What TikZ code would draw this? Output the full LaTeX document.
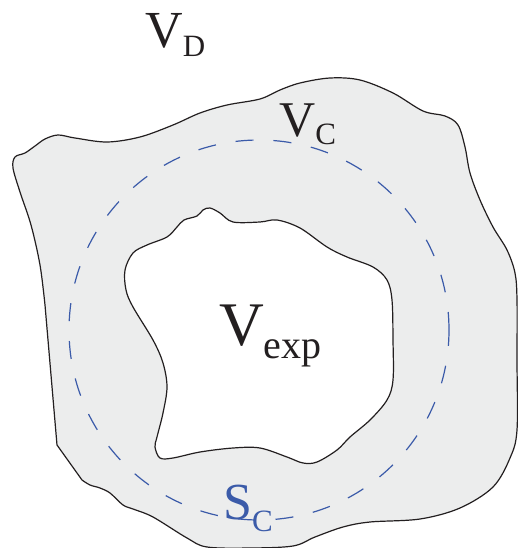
\documentclass[tikz,border=0pt]{standalone}
\usepackage{fontspec}
\setmainfont{Liberation Serif}

\definecolor{regiongray}{HTML}{ECEDED}
\definecolor{surfblue}{HTML}{3B5BA9}
\definecolor{inkblack}{HTML}{231F20}

\tikzset{
    boundary/.style={draw=inkblack, line width=1.2pt},
    surface/.style={draw=surfblue, line width=1.2pt, dash pattern=on 18pt off 20pt},
    vlabel/.style={inner sep=0pt, anchor=base west, text=inkblack,
        font=\fontsize{52}{52}\selectfont},
}

\newcommand{\lowsub}[2]{\raisebox{-#1}{\fontsize{31}{31}\selectfont #2}}

\begin{document}
\begin{tikzpicture}[x=1pt, y=-1pt]

    \useasboundingbox (0,0) rectangle (517,548);

    % Outer boundary of V_C
    \path[boundary, fill=regiongray]
        (57,445) -- (45,305)
        -- plot[smooth, tension=0.55] coordinates {
            (45,305) (40,265) (31,225) (20,192) (13,168) (15,157) (25,153)
            (35,146) (45,139) (58,135) (75,138) (107,142) (140,137) (173,125)
            (200,113) (227,105) (260,99) (280,90) (300,83) (330,78) (360,80)
            (393,93) (423,111) (445,116) (458,125) (465,147) (470,173)
            (480,200) (493,227) (507,250) (515,273) (517,300) (517,360)
            (517,430) (510,458) (493,487) (460,508) (420,519) (370,522)
            (343,527) (315,537) (293,546) (250,548) (207,547) (187,538)
            (153,517) (133,509) (123,505) (110,493) (100,488) (90,485) (82,480)}
        -- cycle;

    % Inner boundary (V_exp)
    \path[boundary, fill=white]
        plot[smooth cycle, tension=0.55] coordinates {
            (125,270) (133,253) (147,245) (167,237) (177,227) (184,220)
            (197,216) (203,210) (210,208) (220,213) (233,222) (260,222)
            (277,220) (300,228) (327,247) (347,257) (373,267) (387,280)
            (392,300) (393,340) (393,380) (387,400) (370,420) (350,437)
            (337,450) (317,462) (303,463) (287,457) (260,448) (233,448)
            (200,452) (173,458) (160,458) (155,447) (157,437) (163,413)
            (167,387) (163,363) (153,340) (133,307) (126,290)};

    % Surface S_C
    \draw[surface] (259,330) circle [radius=190pt];

    % Labels
    \node[vlabel] (vd) at (145,48) {V\lowsub{9pt}{D}};
    \node[vlabel, font=\fontsize{50}{50}\selectfont] (vc) at (279,137) {V\lowsub{8pt}{C}};
    \node[vlabel, font=\fontsize{62}{62}\selectfont] (vexp) at (219,345)
        {V\raisebox{-13pt}{\fontsize{40}{40}\selectfont exp}};
    \node[vlabel, text=surfblue] (sc) at (223,519) {S\lowsub{12pt}{C}};

\end{tikzpicture}
\end{document}
